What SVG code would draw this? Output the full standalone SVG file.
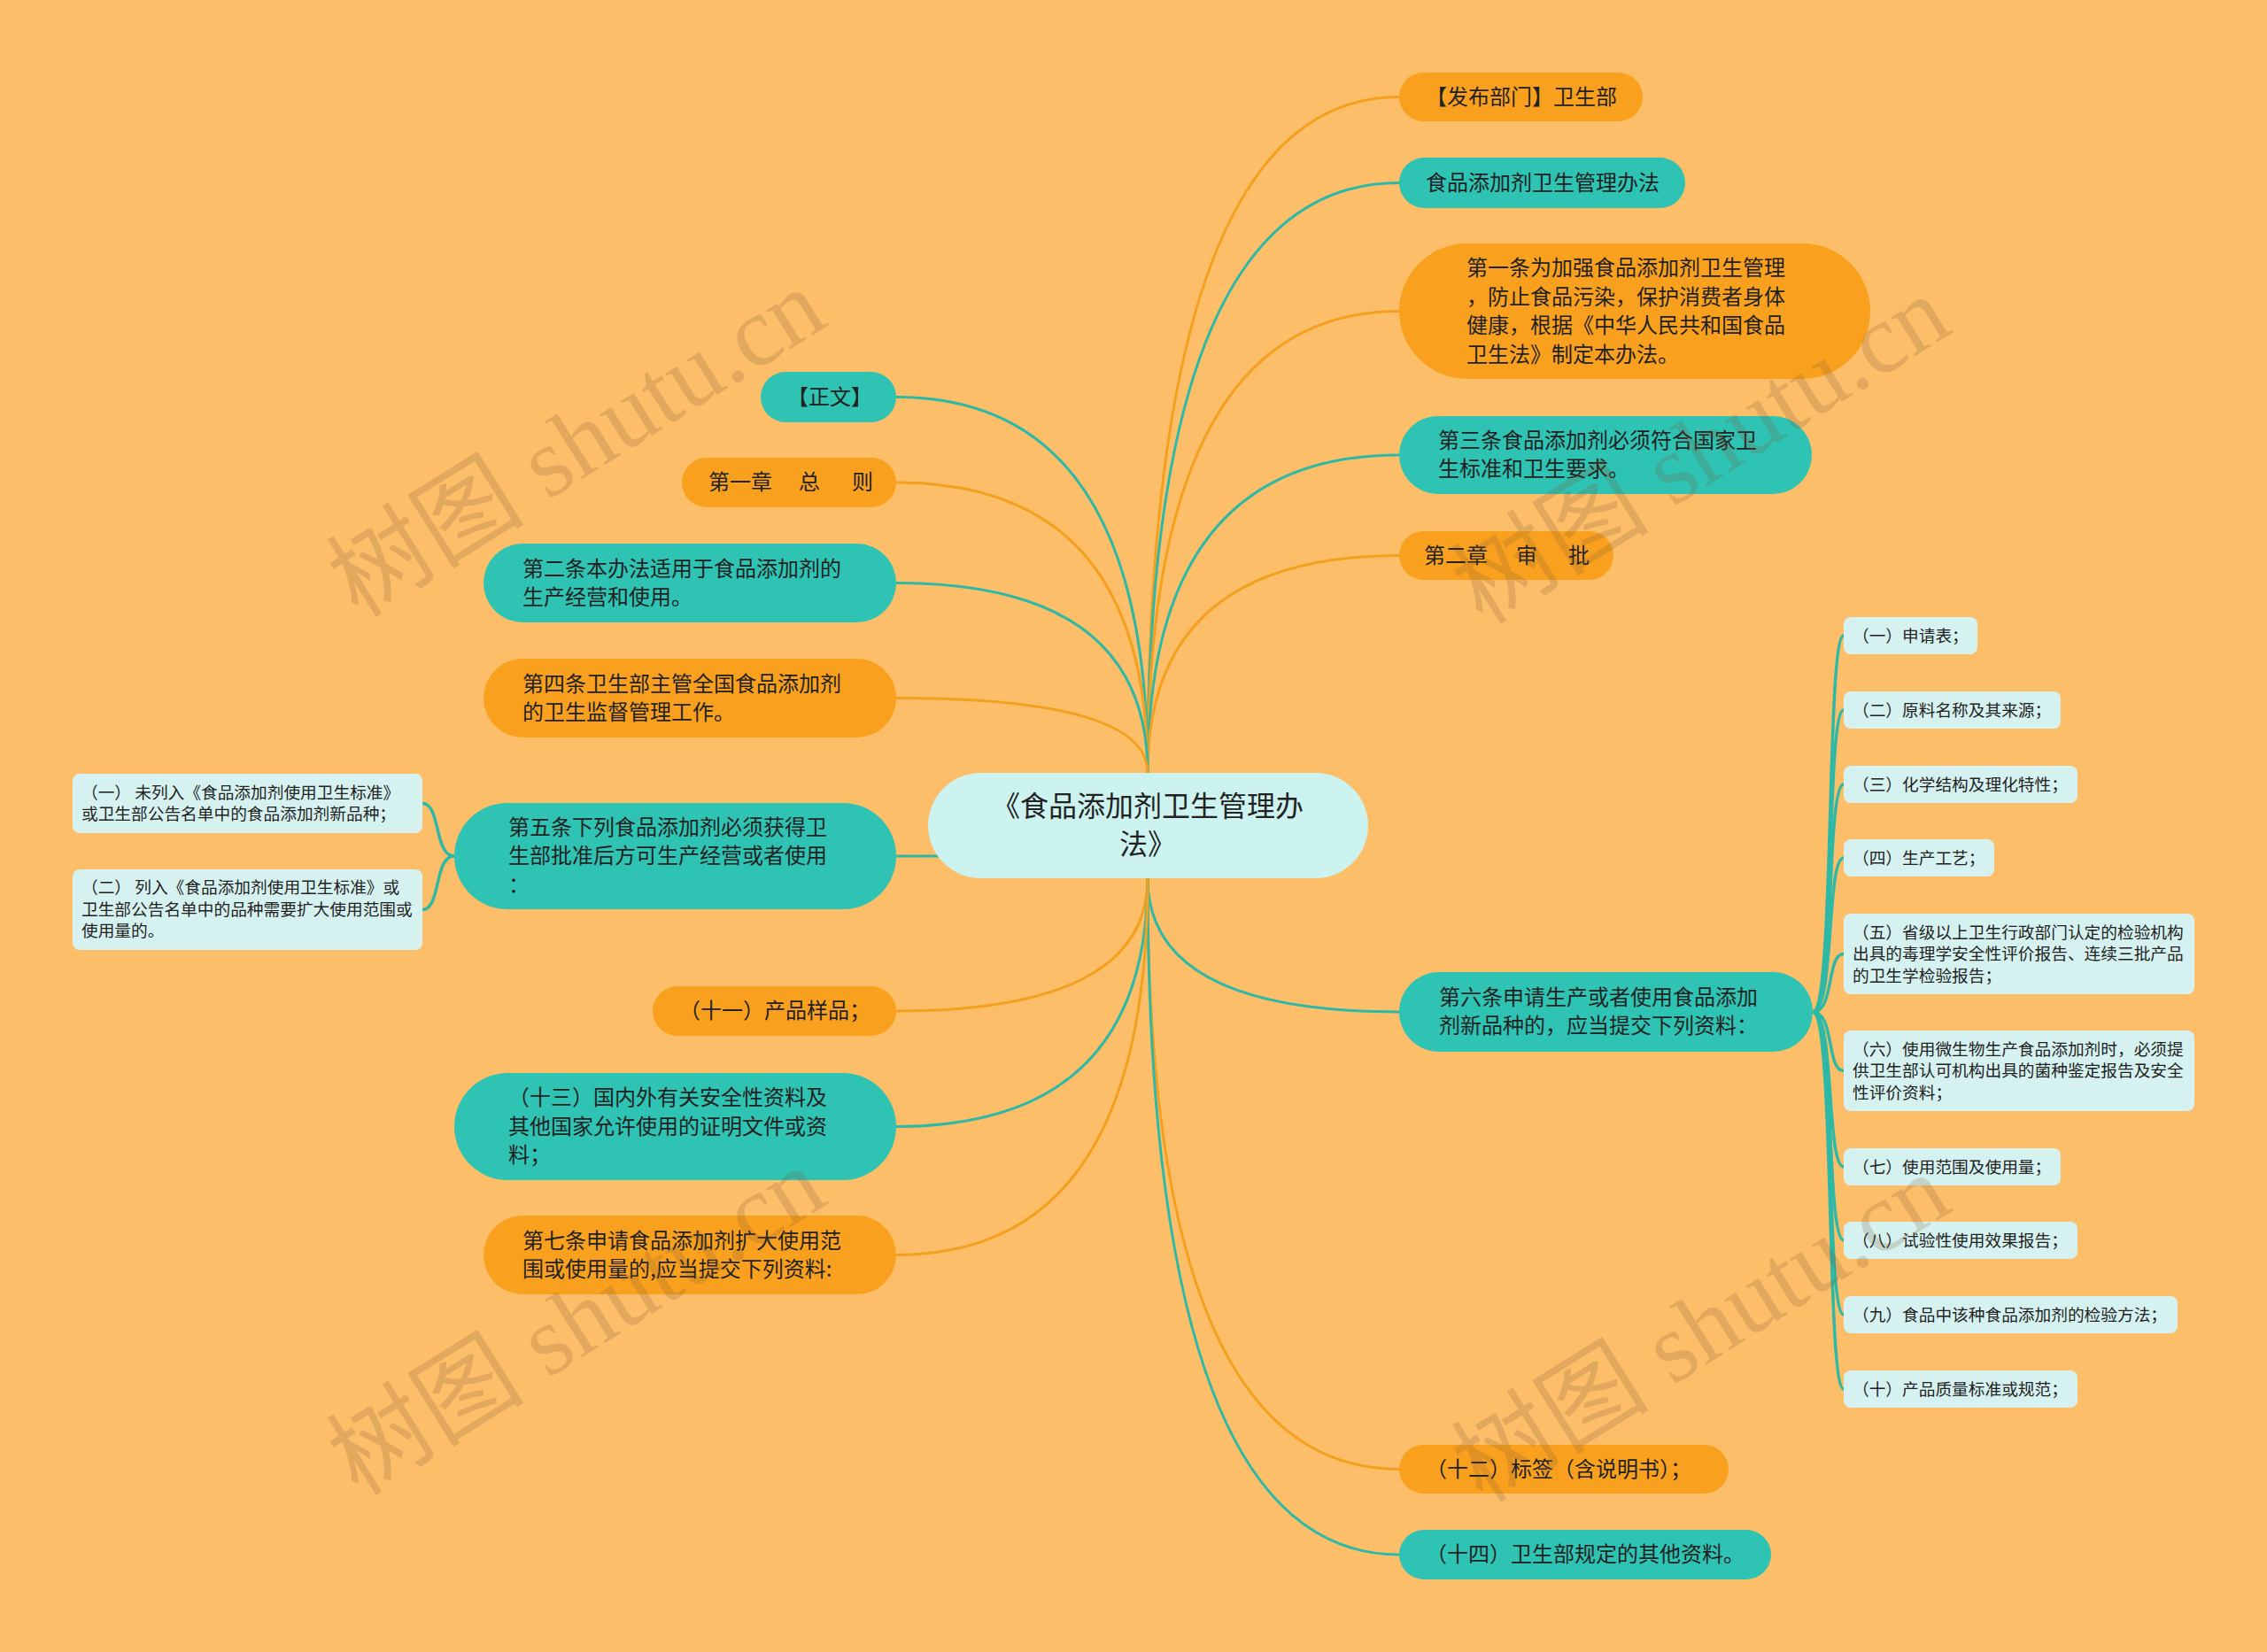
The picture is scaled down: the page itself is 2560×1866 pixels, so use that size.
<svg xmlns="http://www.w3.org/2000/svg" width="2560" height="1866" viewBox="0 0 2560 1866">
<style>
.bg{fill:#FDBE69}
.or{fill:#F9A11F}
.te{fill:#2FC3B3}
.ce{fill:#CCF3EF}
.ch{fill:#D6F2F0}
.lo{fill:none;stroke:#F4A01E;stroke-width:3}
.lt{fill:none;stroke:#2EB8A6;stroke-width:3}
.lb{fill:none;stroke:#2EB8A6;stroke-width:3.5}
text{font-family:"Noto Sans CJK SC","Noto Sans",sans-serif;fill:#222222}
.t24{font-size:24px}
.t32{font-size:32px}
.t18{font-size:18.7px}
.wm{font-family:"Liberation Serif","Noto Sans CJK SC",serif;font-size:112px;fill:#7A5530;opacity:0.2}
</style>
<rect class="bg" x="0" y="0" width="2560" height="1866"/>

<g id="connectors">
  <path class="lo" d="M1296,873 Q1296,109.5 1580,109.5"/>
  <path class="lt" d="M1296,873 Q1296,206.5 1580,206.5"/>
  <path class="lo" d="M1296,873 Q1296,351.5 1580,351.5"/>
  <path class="lt" d="M1296,873 Q1296,514 1580,514"/>
  <path class="lo" d="M1296,873 Q1296,627.5 1580,627.5"/>
  <path class="lt" d="M1296,992 Q1296,1143 1580,1143"/>
  <path class="lo" d="M1296,992 Q1296,1659.5 1580,1659.5"/>
  <path class="lt" d="M1296,992 Q1296,1756 1580,1756"/>
  <path class="lt" d="M1296,873 Q1296,448.5 1012,448.5"/>
  <path class="lo" d="M1296,873 Q1296,545 1012,545"/>
  <path class="lt" d="M1296,873 Q1296,658.5 1012,658.5"/>
  <path class="lo" d="M1296,873 Q1296,788.5 1012,788.5"/>
  <path class="lt" d="M1012,967 L1070,967"/>
  <path class="lo" d="M1296,992 Q1296,1142 1012,1142"/>
  <path class="lt" d="M1296,992 Q1296,1272.5 1012,1272.5"/>
  <path class="lo" d="M1296,992 Q1296,1417.5 1012,1417.5"/>
  <path class="lb" d="M513,967 C490,967 498,907.5 477,907.5"/>
  <path class="lb" d="M513,967 C490,967 498,1027.5 477,1027.5"/>
  <path class="lb" d="M2047,1143 C2072,1143 2062,718 2082,718"/>
  <path class="lb" d="M2047,1143 C2072,1143 2062,802 2082,802"/>
  <path class="lb" d="M2047,1143 C2072,1143 2062,886 2082,886"/>
  <path class="lb" d="M2047,1143 C2072,1143 2062,969 2082,969"/>
  <path class="lb" d="M2047,1143 C2072,1143 2062,1077.5 2082,1077.5"/>
  <path class="lb" d="M2047,1143 C2072,1143 2062,1209.5 2082,1209.5"/>
  <path class="lb" d="M2047,1143 C2072,1143 2062,1318 2082,1318"/>
  <path class="lb" d="M2047,1143 C2072,1143 2062,1401 2082,1401"/>
  <path class="lb" d="M2047,1143 C2072,1143 2062,1485 2082,1485"/>
  <path class="lb" d="M2047,1143 C2072,1143 2062,1569 2082,1569"/>
</g>

<g id="center">
  <rect class="ce" x="1048" y="873" width="497" height="119" rx="59.5"/>
  <text class="t32" x="1296" y="921.5" text-anchor="middle">《食品添加剂卫生管理办</text>
  <text class="t32" x="1296" y="964.5" text-anchor="middle">法》</text>
</g>

<g id="n_fabu">
  <rect class="or" x="1580" y="82" width="275" height="55" rx="27.5"/>
  <text class="t24" x="1610" y="117.5">【发布部门】卫生部</text>
</g>
<g id="n_title">
  <rect class="te" x="1580" y="178" width="323" height="57" rx="28.5"/>
  <text class="t24" x="1610" y="214.5">食品添加剂卫生管理办法</text>
</g>
<g id="n_art1">
  <rect class="or" x="1580" y="275" width="532" height="153" rx="76.5"/>
  <text class="t24" x="1656" y="311">第一条为加强食品添加剂卫生管理</text>
  <text class="t24" x="1656" y="343.5">，防止食品污染，保护消费者身体</text>
  <text class="t24" x="1656" y="376">健康，根据《中华人民共和国食品</text>
  <text class="t24" x="1656" y="408.5">卫生法》制定本办法。</text>
</g>
<g id="n_art3">
  <rect class="te" x="1580" y="470" width="466" height="88" rx="44"/>
  <text class="t24" x="1624" y="505.5">第三条食品添加剂必须符合国家卫</text>
  <text class="t24" x="1624" y="538">生标准和卫生要求。</text>
</g>
<g id="n_ch2">
  <rect class="or" x="1580" y="600" width="242" height="55" rx="27.5"/>
  <text class="t24" y="635.5"><tspan x="1608">第二章</tspan><tspan x="1712">审</tspan><tspan x="1771">批</tspan></text>
</g>
<g id="n_art6">
  <rect class="te" x="1580" y="1098" width="467" height="90" rx="45"/>
  <text class="t24" x="1625" y="1134.5">第六条申请生产或者使用食品添加</text>
  <text class="t24" x="1625" y="1167">剂新品种的，应当提交下列资料：</text>
</g>
<g id="n_12">
  <rect class="or" x="1580" y="1632" width="372" height="55" rx="27.5"/>
  <text class="t24" x="1610" y="1667.5">（十二）标签（含说明书）；</text>
</g>
<g id="n_14">
  <rect class="te" x="1580" y="1728" width="420" height="56" rx="28"/>
  <text class="t24" x="1610" y="1764">（十四）卫生部规定的其他资料。</text>
</g>

<g id="n_zw">
  <rect class="te" x="859" y="420" width="153" height="57" rx="28.5"/>
  <text class="t24" x="889" y="456.5">【正文】</text>
</g>
<g id="n_ch1">
  <rect class="or" x="770" y="517" width="242" height="56" rx="28"/>
  <text class="t24" y="553"><tspan x="800">第一章</tspan><tspan x="902">总</tspan><tspan x="962">则</tspan></text>
</g>
<g id="n_art2">
  <rect class="te" x="546" y="614" width="466" height="89" rx="44.5"/>
  <text class="t24" x="590" y="650.5">第二条本办法适用于食品添加剂的</text>
  <text class="t24" x="590" y="683">生产经营和使用。</text>
</g>
<g id="n_art4">
  <rect class="or" x="546" y="744" width="466" height="89" rx="44.5"/>
  <text class="t24" x="590" y="780.5">第四条卫生部主管全国食品添加剂</text>
  <text class="t24" x="590" y="813">的卫生监督管理工作。</text>
</g>
<g id="n_art5">
  <rect class="te" x="513" y="907" width="499" height="120" rx="60"/>
  <text class="t24" x="574" y="942.5">第五条下列食品添加剂必须获得卫</text>
  <text class="t24" x="574" y="975">生部批准后方可生产经营或者使用</text>
  <text class="t24" x="574" y="1007.5">：</text>
</g>
<g id="n_11">
  <rect class="or" x="737" y="1114" width="275" height="56" rx="28"/>
  <text class="t24" x="767" y="1150">（十一）产品样品；</text>
</g>
<g id="n_13">
  <rect class="te" x="513" y="1212" width="499" height="121" rx="60.5"/>
  <text class="t24" x="574" y="1248">（十三）国内外有关安全性资料及</text>
  <text class="t24" x="574" y="1280.5">其他国家允许使用的证明文件或资</text>
  <text class="t24" x="574" y="1313">料；</text>
</g>
<g id="n_art7">
  <rect class="or" x="546" y="1373" width="466" height="89" rx="44.5"/>
  <text class="t24" x="590" y="1409.5">第七条申请食品添加剂扩大使用范</text>
  <text class="t24" x="590" y="1442">围或使用量的,应当提交下列资料:</text>
</g>

<g id="c5_1">
  <rect class="ch" x="82" y="874" width="395" height="67" rx="8"/>
  <text class="t18" x="92" y="901.5">（一） 未列入《食品添加剂使用卫生标准》</text>
  <text class="t18" x="92" y="926">或卫生部公告名单中的食品添加剂新品种；</text>
</g>
<g id="c5_2">
  <rect class="ch" x="82" y="982" width="395" height="91" rx="8"/>
  <text class="t18" x="92" y="1009">（二） 列入《食品添加剂使用卫生标准》或</text>
  <text class="t18" x="92" y="1033.5">卫生部公告名单中的品种需要扩大使用范围或</text>
  <text class="t18" x="92" y="1058">使用量的。</text>
</g>

<g id="c6_1">
  <rect class="ch" x="2082" y="697" width="151" height="42" rx="8"/>
  <text class="t18" x="2092" y="724.5">（一）申请表；</text>
</g>
<g id="c6_2">
  <rect class="ch" x="2082" y="781" width="245" height="42" rx="8"/>
  <text class="t18" x="2092" y="808.5">（二）原料名称及其来源；</text>
</g>
<g id="c6_3">
  <rect class="ch" x="2082" y="865" width="264" height="42" rx="8"/>
  <text class="t18" x="2092" y="892.5">（三）化学结构及理化特性；</text>
</g>
<g id="c6_4">
  <rect class="ch" x="2082" y="948" width="170" height="42" rx="8"/>
  <text class="t18" x="2092" y="975.5">（四）生产工艺；</text>
</g>
<g id="c6_5">
  <rect class="ch" x="2082" y="1032" width="396" height="91" rx="8"/>
  <text class="t18" x="2092" y="1059.5">（五）省级以上卫生行政部门认定的检验机构</text>
  <text class="t18" x="2092" y="1084">出具的毒理学安全性评价报告、连续三批产品</text>
  <text class="t18" x="2092" y="1108.5">的卫生学检验报告；</text>
</g>
<g id="c6_6">
  <rect class="ch" x="2082" y="1164" width="396" height="91" rx="8"/>
  <text class="t18" x="2092" y="1191.5">（六）使用微生物生产食品添加剂时，必须提</text>
  <text class="t18" x="2092" y="1216">供卫生部认可机构出具的菌种鉴定报告及安全</text>
  <text class="t18" x="2092" y="1240.5">性评价资料；</text>
</g>
<g id="c6_7">
  <rect class="ch" x="2082" y="1297" width="245" height="42" rx="8"/>
  <text class="t18" x="2092" y="1324.5">（七）使用范围及使用量；</text>
</g>
<g id="c6_8">
  <rect class="ch" x="2082" y="1380" width="264" height="42" rx="8"/>
  <text class="t18" x="2092" y="1407.5">（八）试验性使用效果报告；</text>
</g>
<g id="c6_9">
  <rect class="ch" x="2082" y="1464" width="377" height="42" rx="8"/>
  <text class="t18" x="2092" y="1491.5">（九）食品中该种食品添加剂的检验方法；</text>
</g>
<g id="c6_10">
  <rect class="ch" x="2082" y="1548" width="264" height="42" rx="8"/>
  <text class="t18" x="2092" y="1575.5">（十）产品质量标准或规范；</text>
</g>

<g id="watermark">
  <text class="wm" x="652" y="538" text-anchor="middle" transform="rotate(-32 652 502)">树图 shutu.cn</text>
  <text class="wm" x="1922" y="546" text-anchor="middle" transform="rotate(-32 1922 510)">树图 shutu.cn</text>
  <text class="wm" x="652" y="1530" text-anchor="middle" transform="rotate(-32 652 1494)">树图 shutu.cn</text>
  <text class="wm" x="1922" y="1538" text-anchor="middle" transform="rotate(-32 1922 1502)">树图 shutu.cn</text>
</g>
</svg>
